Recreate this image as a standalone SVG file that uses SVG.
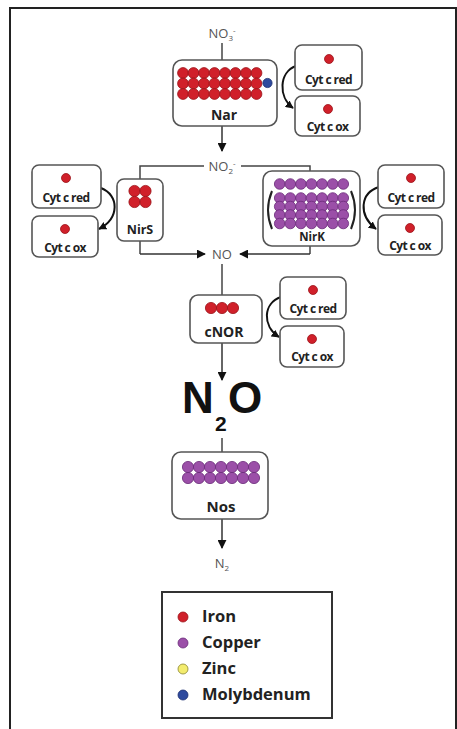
<svg xmlns="http://www.w3.org/2000/svg" width="457" height="729" viewBox="0 0 457 729">
<defs>
<style>
.box{fill:#fff;stroke:#555;stroke-width:1.6}
.fe{fill:#d0202a;stroke:#9a1118;stroke-width:0.8}
.cu{fill:#9b4fa8;stroke:#6a2a78;stroke-width:0.8}
.mo{fill:#2e4a9e;stroke:#1c2f70;stroke-width:0.8}
.zn{fill:#f3ec6e;stroke:#8a8530;stroke-width:0.8}
.ln{fill:none;stroke:#444;stroke-width:1.5}
.ar{fill:none;stroke:#333;stroke-width:1.5;marker-end:url(#ah)}
.cv{fill:none;stroke:#111;stroke-width:2;marker-end:url(#ah2)}
.lbl{font-family:"Open Sans","Liberation Sans",sans-serif;font-weight:bold;fill:#222;text-anchor:middle}
.cyt{font-family:"Open Sans","Liberation Sans",sans-serif;font-weight:bold;font-size:12px;fill:#222;text-anchor:middle;letter-spacing:-0.6px}
.chem{font-family:"Open Sans","Liberation Sans",sans-serif;font-size:13px;fill:#555;text-anchor:middle}
.leg{font-family:"Open Sans","Liberation Sans",sans-serif;font-weight:bold;font-size:16.5px;fill:#222}
</style>
<marker id="ah" viewBox="0 0 10 10" refX="9" refY="5" markerWidth="9" markerHeight="9" markerUnits="userSpaceOnUse" orient="auto"><path d="M0,0 L10,5 L0,10 Z" fill="#111"/></marker>
<marker id="ah2" viewBox="0 0 10 10" refX="9" refY="5" markerWidth="8" markerHeight="8" markerUnits="userSpaceOnUse" orient="auto"><path d="M0,0 L10,5 L0,10 Z" fill="#111"/></marker>
</defs>
<rect x="10" y="8" width="446" height="740" fill="#fff" stroke="#222" stroke-width="2"/>

<g id="connectors">
<line class="ln" x1="222" y1="43" x2="222" y2="60"/>
<line class="ar" x1="222" y1="126" x2="222" y2="151"/>
<polyline class="ln" points="204,166 140,166 140,254"/>
<polyline class="ln" points="241,166 310,166 310,254"/>
<polyline class="ar" points="140,254 205,254"/>
<polyline class="ar" points="310,254 240,254"/>
<line class="ln" x1="222" y1="264" x2="222" y2="295"/>
<line class="ar" x1="222" y1="343" x2="222" y2="380"/>
<line class="ln" x1="222" y1="438" x2="222" y2="452"/>
<line class="ar" x1="222" y1="519" x2="222" y2="548"/>
<path class="cv" d="M296,66 C279,72 278,97 293,108"/>
<path class="cv" d="M101,188 C119,195 120,218 99,229"/>
<path class="cv" d="M379,187 C360,193 358,215 376,229"/>
<path class="cv" d="M281,297 C263,303 262,326 279,337"/>
</g>

<g id="no3">
<text class="chem" x="222" y="38">NO<tspan font-size="8" dy="3">3</tspan><tspan font-size="8" dy="-8">-</tspan></text>
</g>

<g id="nar">
<rect class="box" x="173" y="60" width="104" height="66" rx="9"/>
<g>
<circle class="fe" cx="183" cy="73" r="5.4"/><circle class="fe" cx="193.5" cy="73" r="5.4"/><circle class="fe" cx="204" cy="73" r="5.4"/><circle class="fe" cx="214.5" cy="73" r="5.4"/><circle class="fe" cx="225" cy="73" r="5.4"/><circle class="fe" cx="235.5" cy="73" r="5.4"/><circle class="fe" cx="246" cy="73" r="5.4"/><circle class="fe" cx="256.5" cy="73" r="5.4"/>
<circle class="fe" cx="183" cy="83.5" r="5.4"/><circle class="fe" cx="193.5" cy="83.5" r="5.4"/><circle class="fe" cx="204" cy="83.5" r="5.4"/><circle class="fe" cx="214.5" cy="83.5" r="5.4"/><circle class="fe" cx="225" cy="83.5" r="5.4"/><circle class="fe" cx="235.5" cy="83.5" r="5.4"/><circle class="fe" cx="246" cy="83.5" r="5.4"/><circle class="fe" cx="256.5" cy="83.5" r="5.4"/>
<circle class="fe" cx="183" cy="94" r="5.4"/><circle class="fe" cx="193.5" cy="94" r="5.4"/><circle class="fe" cx="204" cy="94" r="5.4"/><circle class="fe" cx="214.5" cy="94" r="5.4"/><circle class="fe" cx="225" cy="94" r="5.4"/><circle class="fe" cx="235.5" cy="94" r="5.4"/><circle class="fe" cx="246" cy="94" r="5.4"/><circle class="fe" cx="256.5" cy="94" r="5.4"/>
</g>
<circle class="mo" cx="267.5" cy="83" r="4.6"/>
<text class="lbl" x="224" y="120" font-size="14">Nar</text>
</g>

<g id="nar-cytred">
<rect class="box" x="295" y="45" width="67" height="45" rx="7"/>
<circle class="fe" cx="329" cy="59" r="4.5"/>
<text class="cyt" x="328.5" y="84">Cyt c red</text>
</g>
<g id="nar-cytox">
<rect class="box" x="295" y="96" width="65" height="40" rx="7"/>
<circle class="fe" cx="328" cy="109" r="4.5"/>
<text class="cyt" x="327.5" y="131">Cyt c ox</text>
</g>

<g id="no2">
<text class="chem" x="222" y="171">NO<tspan font-size="8" dy="3">2</tspan><tspan font-size="8" dy="-8">-</tspan></text>
</g>

<g id="nirs">
<rect class="box" x="117" y="179" width="46" height="62" rx="7"/>
<circle class="fe" cx="134.5" cy="191" r="5.6"/><circle class="fe" cx="145.5" cy="191" r="5.6"/>
<circle class="fe" cx="134.5" cy="202" r="5.6"/><circle class="fe" cx="145.5" cy="202" r="5.6"/>
<text class="lbl" x="140" y="234" font-size="12.5">NirS</text>
</g>
<g id="nirs-cytred">
<rect class="box" x="32" y="165" width="69" height="43" rx="7"/>
<circle class="fe" cx="66" cy="178" r="4.5"/>
<text class="cyt" x="66" y="202">Cyt c red</text>
</g>
<g id="nirs-cytox">
<rect class="box" x="32" y="216" width="66" height="41" rx="7"/>
<circle class="fe" cx="65" cy="229" r="4.5"/>
<text class="cyt" x="65" y="252">Cyt c ox</text>
</g>

<g id="nirk">
<rect class="box" x="263" y="171" width="97" height="75" rx="9"/>
<g>
<circle class="cu" cx="279.7" cy="184" r="5.3"/><circle class="cu" cx="290.3" cy="184" r="5.3"/><circle class="cu" cx="300.9" cy="184" r="5.3"/><circle class="cu" cx="311.5" cy="184" r="5.3"/><circle class="cu" cx="322.1" cy="184" r="5.3"/><circle class="cu" cx="332.7" cy="184" r="5.3"/><circle class="cu" cx="343.3" cy="184" r="5.3"/>
<circle class="cu" cx="279.7" cy="198" r="5.3"/><circle class="cu" cx="290.3" cy="198" r="5.3"/><circle class="cu" cx="300.9" cy="198" r="5.3"/><circle class="cu" cx="311.5" cy="198" r="5.3"/><circle class="cu" cx="322.1" cy="198" r="5.3"/><circle class="cu" cx="332.7" cy="198" r="5.3"/><circle class="cu" cx="343.3" cy="198" r="5.3"/>
<circle class="cu" cx="279.7" cy="206.5" r="5.3"/><circle class="cu" cx="290.3" cy="206.5" r="5.3"/><circle class="cu" cx="300.9" cy="206.5" r="5.3"/><circle class="cu" cx="311.5" cy="206.5" r="5.3"/><circle class="cu" cx="322.1" cy="206.5" r="5.3"/><circle class="cu" cx="332.7" cy="206.5" r="5.3"/><circle class="cu" cx="343.3" cy="206.5" r="5.3"/>
<circle class="cu" cx="279.7" cy="215" r="5.3"/><circle class="cu" cx="290.3" cy="215" r="5.3"/><circle class="cu" cx="300.9" cy="215" r="5.3"/><circle class="cu" cx="311.5" cy="215" r="5.3"/><circle class="cu" cx="322.1" cy="215" r="5.3"/><circle class="cu" cx="332.7" cy="215" r="5.3"/><circle class="cu" cx="343.3" cy="215" r="5.3"/>
<circle class="cu" cx="279.7" cy="223.5" r="5.3"/><circle class="cu" cx="290.3" cy="223.5" r="5.3"/><circle class="cu" cx="300.9" cy="223.5" r="5.3"/><circle class="cu" cx="311.5" cy="223.5" r="5.3"/><circle class="cu" cx="322.1" cy="223.5" r="5.3"/><circle class="cu" cx="332.7" cy="223.5" r="5.3"/><circle class="cu" cx="343.3" cy="223.5" r="5.3"/>
</g>
<path d="M272,191 Q264,210 272,229" fill="none" stroke="#222" stroke-width="2"/>
<path d="M351,191 Q359,210 351,229" fill="none" stroke="#222" stroke-width="2"/>
<text class="lbl" x="312" y="241" font-size="11.5">NirK</text>
</g>
<g id="nirk-cytred">
<rect class="box" x="378" y="165" width="66" height="43" rx="7"/>
<circle class="fe" cx="411" cy="178" r="4.5"/>
<text class="cyt" x="411" y="202">Cyt c red</text>
</g>
<g id="nirk-cytox">
<rect class="box" x="378" y="215" width="64" height="40" rx="7"/>
<circle class="fe" cx="410" cy="228" r="4.5"/>
<text class="cyt" x="410" y="250">Cyt c ox</text>
</g>

<g id="no">
<text class="chem" x="222" y="259" font-size="14">NO</text>
</g>

<g id="cnor">
<rect class="box" x="190" y="295" width="72" height="48" rx="8"/>
<circle class="fe" cx="211" cy="308" r="5.6"/><circle class="fe" cx="222" cy="308" r="5.6"/><circle class="fe" cx="233" cy="308" r="5.6"/>
<text class="lbl" x="224" y="337" font-size="14">cNOR</text>
</g>
<g id="cnor-cytred">
<rect class="box" x="280" y="277" width="66" height="42" rx="7"/>
<circle class="fe" cx="313" cy="290" r="4.5"/>
<text class="cyt" x="313" y="313">Cyt c red</text>
</g>
<g id="cnor-cytox">
<rect class="box" x="280" y="326" width="64" height="41" rx="7"/>
<circle class="fe" cx="312" cy="339" r="4.5"/>
<text class="cyt" x="312" y="361">Cyt c ox</text>
</g>

<g id="n2o">
<text font-family="Liberation Sans, Arial, sans-serif" font-weight="bold" fill="#111"><tspan x="182" y="413" font-size="44">N</tspan><tspan x="215" y="431" font-size="21">2</tspan><tspan x="228" y="413" font-size="44">O</tspan></text>
</g>

<g id="nos">
<rect class="box" x="172" y="452" width="96" height="67" rx="9"/>
<circle class="cu" cx="188" cy="467" r="5.6"/><circle class="cu" cx="199" cy="467" r="5.6"/><circle class="cu" cx="210" cy="467" r="5.6"/><circle class="cu" cx="221" cy="467" r="5.6"/><circle class="cu" cx="232" cy="467" r="5.6"/><circle class="cu" cx="243" cy="467" r="5.6"/><circle class="cu" cx="254" cy="467" r="5.6"/>
<circle class="cu" cx="188" cy="478" r="5.6"/><circle class="cu" cx="199" cy="478" r="5.6"/><circle class="cu" cx="210" cy="478" r="5.6"/><circle class="cu" cx="221" cy="478" r="5.6"/><circle class="cu" cx="232" cy="478" r="5.6"/><circle class="cu" cx="243" cy="478" r="5.6"/><circle class="cu" cx="254" cy="478" r="5.6"/>
<text class="lbl" x="221" y="512" font-size="15">Nos</text>
</g>

<g id="n2">
<text class="chem" x="222" y="568">N<tspan font-size="8" dy="3">2</tspan></text>
</g>

<g id="legend">
<rect x="162" y="592" width="170" height="126" fill="#fff" stroke="#333" stroke-width="2"/>
<circle class="fe" cx="183" cy="617" r="5"/>
<text class="leg" x="202" y="622">Iron</text>
<circle class="cu" cx="183" cy="643" r="5"/>
<text class="leg" x="202" y="648">Copper</text>
<circle class="zn" cx="183" cy="669" r="5"/>
<text class="leg" x="202" y="674">Zinc</text>
<circle class="mo" cx="183" cy="695" r="5"/>
<text class="leg" x="202" y="700">Molybdenum</text>
</g>
</svg>
